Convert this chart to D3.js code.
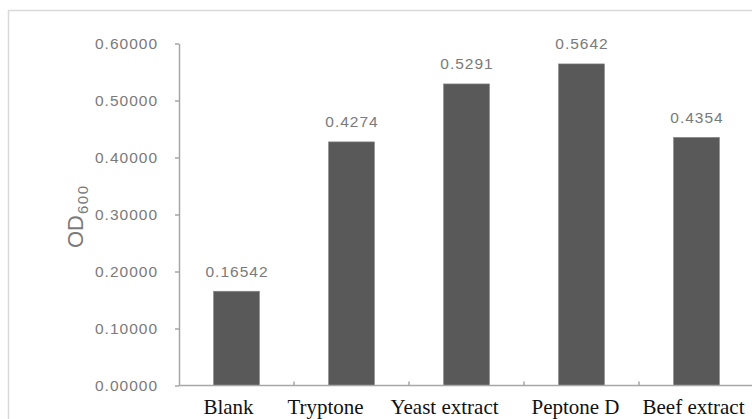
<!DOCTYPE html>
<html>
<head>
<meta charset="utf-8">
<script src="https://cdn.jsdelivr.net/npm/d3@7"></script>
<style>
  html, body { margin: 0; padding: 0; background: #ffffff; }
  svg { display: block; }
</style>
</head>
<body>
<svg id="chart" width="752" height="419"></svg>
<script>
// Culture media and measured optical density
const categories = ["Blank", "Tryptone", "Yeast extract", "Peptone D", "Beef extract"];
const odValues = [0.16542, 0.4274, 0.5291, 0.5642, 0.4354];
const yTicks = [0, 0.1, 0.2, 0.3, 0.4, 0.5, 0.6];

// Hand-set nudges for the category captions (px)
const captionNudge = [-8, -26, -22, -6, -3];

const W = 752, H = 419;
const plot = { left: 179, right: 754, top: 43.5, bottom: 385.5 };

const svg = d3.select("#chart");

// Outer chart frame (runs off the right and bottom edges)
svg.append("rect")
  .attr("x", 8.5).attr("y", 10.5)
  .attr("width", 770).attr("height", 440)
  .attr("fill", "#ffffff")
  .attr("stroke", "#d9d9d9")
  .attr("stroke-width", 1.5);

const x = d3.scaleBand()
  .domain(categories)
  .range([plot.left, plot.right])
  .paddingInner(0.6)
  .paddingOuter(0.3);

const y = d3.scaleLinear()
  .domain([0, 0.6])
  .range([plot.bottom, plot.top]);

const axisColor = "#a6a6a6";
const labelGray = "#7a7a7a";

// Y axis
const yAxis = svg.append("g")
  .attr("transform", `translate(${plot.left},0)`)
  .call(d3.axisLeft(y).tickValues(yTicks).tickFormat(d3.format(".5f")).tickSize(4).tickSizeOuter(0).tickPadding(17));
yAxis.select(".domain").attr("stroke", axisColor).attr("stroke-width", 1.5);
yAxis.selectAll(".tick line").attr("stroke", axisColor).attr("stroke-width", 1.5);
yAxis.selectAll(".tick text")
  .attr("fill", labelGray)
  .style("font-family", "'Liberation Sans', Arial, sans-serif")
  .style("font-size", "15.5px")
  .style("letter-spacing", "1px");

// Bars
svg.append("g").selectAll("rect")
  .data(categories)
  .join("rect")
  .attr("x", d => x(d))
  .attr("width", x.bandwidth())
  .attr("y", (d, i) => y(odValues[i]))
  .attr("height", (d, i) => y(0) - y(odValues[i]))
  .attr("fill", "#595959")
  .attr("stroke", "#8c8c8c")
  .attr("stroke-width", 0.6);

// Value labels above bars
svg.append("g").selectAll("text")
  .data(categories)
  .join("text")
  .attr("x", d => x(d) + x.bandwidth() / 2 + 0.5)
  .attr("y", (d, i) => y(odValues[i]) - 14.5)
  .attr("text-anchor", "middle")
  .attr("fill", labelGray)
  .style("font-family", "'Liberation Sans', Arial, sans-serif")
  .style("font-size", "15.5px")
  .style("letter-spacing", "1px")
  .text((d, i) => String(odValues[i]));

// X axis baseline
const xAxis = svg.append("g")
  .attr("transform", `translate(0,${plot.bottom})`);
xAxis.append("line")
  .attr("x1", plot.left).attr("x2", plot.right)
  .attr("stroke", axisColor).attr("stroke-width", 1.5);

// Inside tick marks on category boundaries
const step = x.step();
xAxis.selectAll(".bound")
  .data(categories)
  .join("line")
  .attr("class", "bound")
  .attr("x1", d => x(d) + x.bandwidth() + step * 0.3)
  .attr("x2", d => x(d) + x.bandwidth() + step * 0.3)
  .attr("y1", 0).attr("y2", -4)
  .attr("stroke", axisColor).attr("stroke-width", 1.5);

// Category captions
svg.append("g").selectAll("text")
  .data(categories)
  .join("text")
  .attr("x", (d, i) => x(d) + x.bandwidth() / 2 + captionNudge[i])
  .attr("y", 413.5)
  .attr("text-anchor", "middle")
  .attr("fill", "#111111")
  .style("font-family", "'Liberation Serif', 'Times New Roman', serif")
  .style("font-size", "21px")
  .text(d => d);

// Y axis title: OD with subscript 600
const title = svg.append("text")
  .attr("transform", "translate(83,248) rotate(-90)")
  .attr("fill", labelGray)
  .style("font-family", "'Liberation Sans', Arial, sans-serif");
title.append("tspan")
  .style("font-size", "22px")
  .text("OD");
title.append("tspan")
  .attr("dy", 5)
  .attr("dx", 1)
  .style("font-size", "15px")
  .style("letter-spacing", "1.5px")
  .text("600");
</script>
</body>
</html>
